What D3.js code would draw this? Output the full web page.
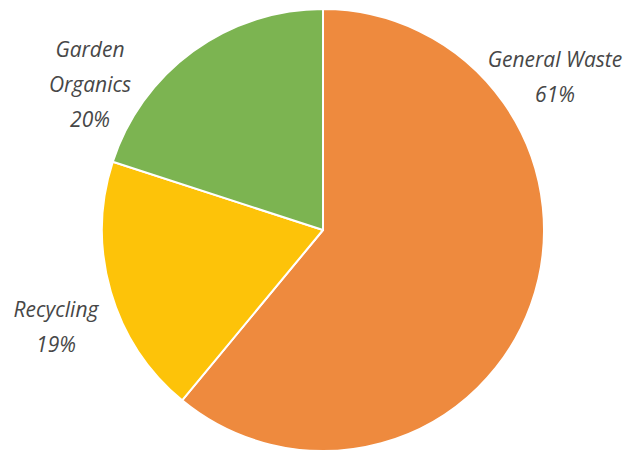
<!DOCTYPE html>
<html>
<head>
<meta charset="utf-8">
<script src="https://cdn.jsdelivr.net/npm/d3@7"></script>
<style>
  body { margin: 0; background: #fff; }
  svg { display: block; }
  .lbl { font-family: "Open Sans", sans-serif; font-style: italic; font-size: 21px; fill: #474747; }
</style>
</head>
<body>
<div id="container"></div>
<script>
let w = 624;
let h = 451;

// data, clockwise from 12 o'clock
let categories = ["General Waste", "Recycling", "Garden Organics"];
let values = [61, 19, 20];
let colors = ["#ee8a3e", "#fdc309", "#7cb451"];

// label lines and their anchor points (centre x, first baseline)
let labelLines = [["General Waste", "61%"], ["Recycling", "19%"], ["Garden", "Organics", "20%"]];
let labelPos = [[555, 67], [56, 317], [90, 57]];
let lineGap = 35;

let cx = 323;
let cy = 230;
let radius = 221;

let viz = d3.select("#container").append("svg")
    .attr("width", w)
    .attr("height", h)
    .style("background-color", "white")
;

let pie = d3.pie().sort(null).value(function(d){ return d; });
let arc = d3.arc().innerRadius(0).outerRadius(radius);

let pieGroup = viz.append("g")
    .attr("transform", "translate(" + cx + "," + cy + ")")
;

pieGroup.selectAll(".slice").data(pie(values))
  .enter()
    .append("path")
    .attr("class", "slice")
    .attr("d", arc)
    .attr("fill", function(d, i){ return colors[i]; })
    .attr("stroke", "#fff")
    .attr("stroke-width", 2)
    .attr("stroke-linejoin", "round")
;

let labels = viz.selectAll(".lbl").data(categories)
  .enter()
    .append("text")
    .attr("class", "lbl")
    .attr("text-anchor", "middle")
;

labels.each(function(d, i){
  let t = d3.select(this);
  labelLines[i].forEach(function(line, j){
    t.append("tspan")
      .attr("x", labelPos[i][0])
      .attr("y", labelPos[i][1] + j * lineGap)
      .text(line);
  });
});
</script>
</body>
</html>
